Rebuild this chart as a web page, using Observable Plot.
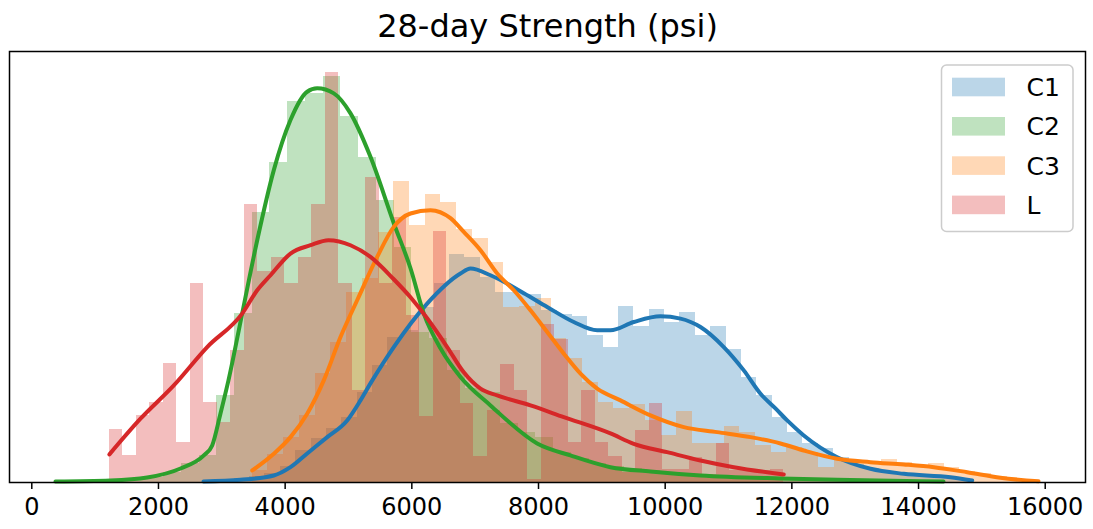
<!DOCTYPE html>
<html>
<head>
<meta charset="utf-8">
<script src="https://cdn.jsdelivr.net/npm/d3@7"></script>
<script src="https://cdn.jsdelivr.net/npm/@observablehq/plot@0.6"></script>
<style>
  body { margin: 0; background: #fff; }
  svg { font-family: "DejaVu Sans", sans-serif; }
</style>
</head>
<body>
<div id="chart"></div>
<script>
// 28-day compressive strength distributions for four mix groups:
// density histograms (50 bins each) with their kernel density curves.
const titleText = "28-day Strength (psi)";
const series = ["C1", "C2", "C3", "L"];
const colors = ["#1f77b4", "#2ca02c", "#ff7f0e", "#d62728"];
const xTicks = [0, 2000, 4000, 6000, 8000, 10000, 12000, 14000, 16000];

// first bin edge and bin width (psi) of each histogram
const binStart = [2710, 400, 3480, 1225];
const binWidth = [242.7, 280, 248.3, 213];

// bar heights (relative density, common scale for all series)
const c1Heights = [2, 3, 4, 6, 9, 16, 32, 44, 54, 65, 90, 117, 145, 152, 175, 199, 228, 225, 205, 190,
  190, 188, 172, 168, 166, 147, 135, 176, 156, 173, 160, 170, 147, 156, 133, 105, 87, 65, 50, 39,
  34, 25, 18, 14, 11, 9, 7, 5, 4, 3];
const c2Heights = [1, 1, 1, 2, 3, 5, 10, 19, 27, 87, 169, 270, 320, 381, 389, 406, 366, 325, 282, 235,
  150, 144, 112, 94, 90, 59, 50, 45, 30, 24, 19, 16, 14, 12, 10, 9, 8, 7, 6, 5,
  4, 3, 3, 2, 2, 1, 1, 1, 1, 1];
const c3Heights = [12, 28, 45, 67, 109, 140, 190, 204, 250, 301, 257, 288, 280, 253, 244, 220, 175, 176, 184, 144,
  124, 100, 80, 74, 78, 62, 47, 71, 39, 39, 56, 50, 37, 30, 35, 30, 15, 24, 20, 19,
  23, 20, 17, 19, 15, 11, 9, 6, 3, 2];
const lHeights = [53, 27, 67, 80, 119, 40, 199, 80, 60, 132, 278, 211, 225, 199, 225, 278, 410, 199, 92, 305,
  199, 265, 167, 66, 251, 132, 79, 26, 72, 118, 92, 3, 158, 143, 40, 92, 40, 26, 10, 52,
  79, 13, 13, 25, 8, 39, 12, 12, 12, 13];

// kernel density curves (psi, relative density), clipped to each data range
const c1KdeX = [2711, 3295, 3821, 4084, 4348, 4664, 4979, 5189, 5347, 5715, 6242, 6768, 6926, 7242, 7768, 8137, 8557,
  8927, 9136, 9504, 9926, 10242, 10557, 10925, 11241, 11505, 11741, 11926, 12188, 12716, 13241, 13767, 14504, 14847];
const c1KdeY = [1, 2.7, 7, 15.3, 29, 45.3, 62, 82, 99, 135.3, 178.7, 208.7, 213.7, 207, 189, 175.3, 160.3,
  152, 152, 160.3, 166, 163.7, 155.3, 135.3, 112, 88.7, 74, 62, 47, 25.3, 13.7, 8.7, 5.3, 2];
const c2KdeX = [374, 1242, 1822, 2348, 2716, 2848, 2979, 3105, 3322, 3559, 3821, 4084, 4348, 4506, 4768, 5032,
  5347, 5715, 5979, 6189, 6452, 6768, 7242, 7979, 8505, 9136, 9768, 10557, 11820, 12925, 14394];
const c2KdeY = [1, 2, 5, 14, 27, 37, 69, 102, 169, 242, 312, 362, 390.3, 393.7, 388.7, 368.7,
  325.3, 259, 214, 168.7, 134, 105.3, 77, 39, 27, 15.3, 11, 7, 4, 2.5, 1];
const c3KdeX = [3480, 3821, 4084, 4348, 4610, 4874, 5137, 5453, 5715, 5979, 6295, 6610, 6820, 7084, 7348, 7610, 7873,
  8137, 8399, 8663, 8927, 9294, 9768, 10294, 10821, 11347, 11820, 12188, 12716, 13241, 13767, 14241, 14768, 15294, 15894];
const c3KdeY = [12, 28.7, 45.3, 68.7, 102, 145.3, 182, 225.3, 255.3, 268.7, 272, 264, 250.3, 232, 208.7, 192, 172,
  150.3, 128.7, 108.7, 93.7, 82, 67, 55.3, 50.3, 45.3, 39, 32, 23.7, 20.3, 18, 15.3, 10.3, 4.7, 1.3];
const lKdeX = [1225, 1716, 2242, 2769, 3322, 3559, 3769, 4084, 4400, 4684, 5032, 5347, 5715, 5979, 6242, 6558,
  6820, 7084, 7348, 7873, 8399, 9136, 9504, 10031, 10557, 11083, 11872];
const lKdeY = [28, 63.7, 97, 135.3, 168.7, 192, 207, 228.7, 237, 242, 237, 225.3, 203, 185, 164, 135.3,
  110, 93.7, 87, 77, 65.3, 49, 38.7, 30.3, 22, 15.3, 8];

const heights = [c1Heights, c2Heights, c3Heights, lHeights];
const kdeX = [c1KdeX, c2KdeX, c3KdeX, lKdeX];
const kdeY = [c1KdeY, c2KdeY, c3KdeY, lKdeY];

const bins = series.map((s, k) => heights[k].map((h, i) => ({
  series: s,
  x1: binStart[k] + i * binWidth[k],
  x2: binStart[k] + (i + 1) * binWidth[k],
  y0: 0,
  y: h
})));
const curves = series.map((s, k) => kdeX[k].map((x, i) => ({series: s, x, y: kdeY[k][i]})));

const maxBar = d3.max(heights.flat());

const marks = [];
series.forEach((s, k) => {
  marks.push(Plot.rect(bins[k], {
    x1: "x1", x2: "x2", y1: "y0", y2: "y",
    fill: colors[k], fillOpacity: 0.3, inset: 0, shapeRendering: "crispEdges"
  }));
});
series.forEach((s, k) => {
  marks.push(Plot.line(curves[k], {
    x: "x", y: "y", stroke: colors[k], strokeWidth: 4, curve: "monotone-x"
  }));
});

const chart = Plot.plot({
  width: 1093,
  height: 529,
  marginLeft: 9,
  marginRight: 8,
  marginTop: 51,
  marginBottom: 47,
  style: {fontFamily: "DejaVu Sans", color: "black", background: "white"},
  x: {domain: [-352, 16636]},
  y: {domain: [0, maxBar * 1.05], axis: null},
  marks: [
    ...marks,
    Plot.frame({stroke: "black", strokeWidth: 1.5}),
    Plot.axisX({
      ticks: xTicks, tickFormat: "d", tickSize: 7, tickPadding: 8,
      fontSize: 24, strokeWidth: 1.5, label: null
    }),
    Plot.text([titleText], {
      frameAnchor: "top", lineAnchor: "bottom", dy: -15,
      fontSize: 32, fill: "black"
    })
  ]
});

document.getElementById("chart").appendChild(chart);

// legend: patch swatches in the upper right corner
const svg = d3.select(chart);
const lg = svg.append("g").attr("transform", "translate(941.5,65)");
lg.append("rect")
  .attr("width", 131.5).attr("height", 166.5).attr("rx", 5)
  .attr("fill", "white").attr("fill-opacity", 0.8)
  .attr("stroke", "#cccccc").attr("stroke-width", 1.5);
series.forEach((s, k) => {
  const cy = 22 + k * 39.3;
  lg.append("rect")
    .attr("x", 10.5).attr("y", cy - 9.3).attr("width", 53).attr("height", 18.6)
    .attr("fill", colors[k]).attr("fill-opacity", 0.3);
  lg.append("text")
    .attr("x", 85).attr("y", cy).attr("dy", "0.36em")
    .attr("text-anchor", "start")
    .attr("font-size", 25).attr("fill", "black")
    .text(s);
});
</script>
</body>
</html>
